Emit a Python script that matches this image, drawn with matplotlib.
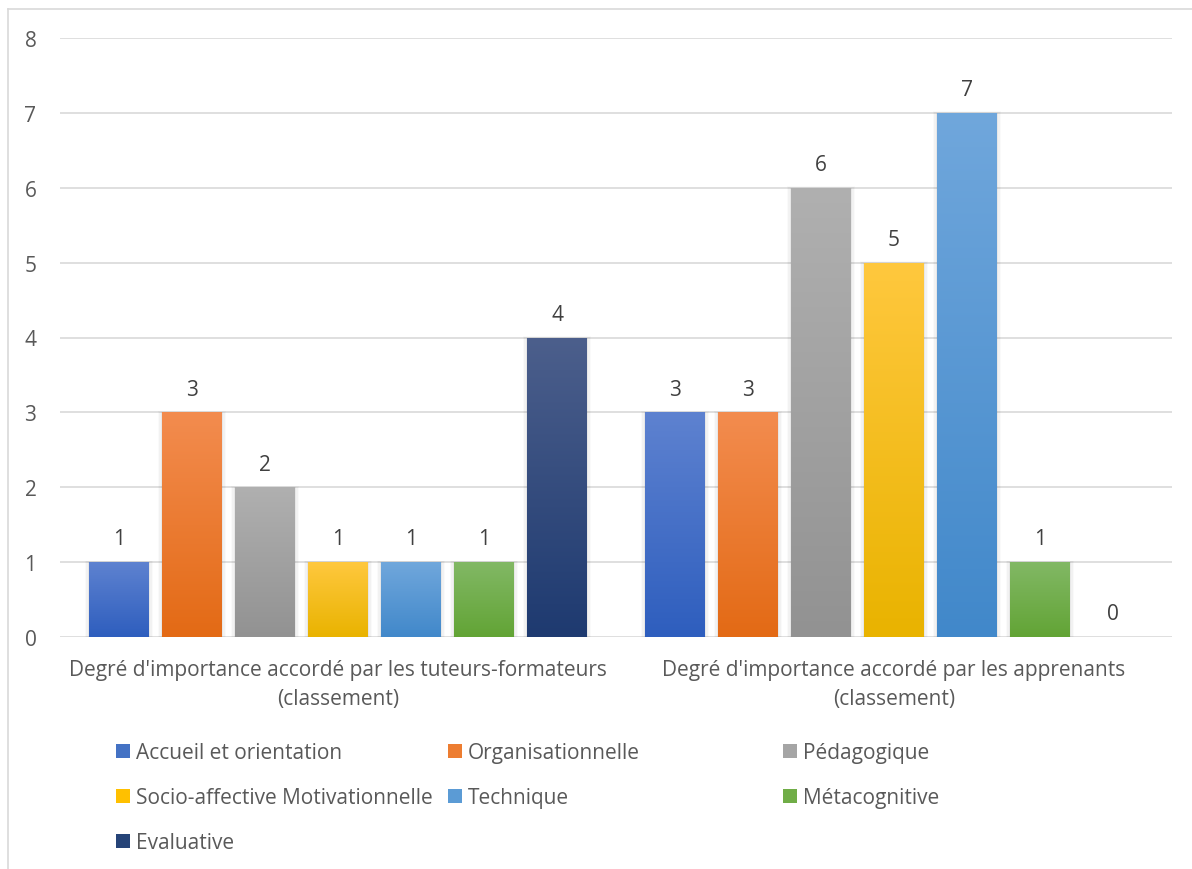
import matplotlib
matplotlib.use("Agg")
import matplotlib.pyplot as plt
import numpy as np
from matplotlib.colors import LinearSegmentedColormap
from matplotlib.patches import Rectangle
from matplotlib.lines import Line2D

groups = ["Degré d'importance accordé par les tuteurs-formateurs\n(classement)",
          "Degré d'importance accordé par les apprenants\n(classement)"]
series = ["Accueil et orientation", "Organisationnelle", "Pédagogique",
          "Socio-affective Motivationnelle", "Technique", "Métacognitive", "Evaluative"]
values = [
    [1, 3],  # Accueil et orientation
    [3, 3],  # Organisationnelle
    [2, 6],  # Pédagogique
    [1, 5],  # Socio-affective Motivationnelle
    [1, 7],  # Technique
    [1, 1],  # Métacognitive
    [4, 0],  # Evaluative
]
yticks = list(range(0, 9))

top_colors = ["#5E82D0", "#F38C4F", "#B0B0B0", "#FFC83E", "#70A7DC", "#82B865", "#4C5F8C"]
bot_colors = ["#2E5EBE", "#E36A15", "#929292", "#E9B300", "#4188CA", "#62A435", "#1E3A70"]
mid_colors = ["#4472C4", "#ED7D31", "#A5A5A5", "#FFC000", "#5B9BD5", "#70AD47", "#264478"]

W, H = 1192, 870
fig = plt.figure(figsize=(W / 100, H / 100), dpi=100)
plt.rcParams['font.family'] = ["Open Sans", 'DejaVu Sans']
FS = 15

ax = fig.add_axes([60 / W, 1 - 638 / H, (1172 - 60) / W, (638 - 39) / H])
ax.set_xlim(-0.5, 1.5)
ax.set_ylim(0, 8)

step = 73 / 556
bw = 60 / 556
n = len(series)
x = np.arange(len(groups))
for i, name in enumerate(series):
    off = (i - (n - 1) / 2) * step
    cmap = LinearSegmentedColormap.from_list("g%d" % i, [bot_colors[i], top_colors[i]])
    bars = ax.bar(x + off, values[i], width=bw, color=mid_colors[i], zorder=3, linewidth=0)
    for b, v in zip(bars, values[i]):
        if v > 0:
            for k, a in enumerate([0.045, 0.03, 0.02]):
                d = 0.0025 * (k + 1)
                sh = Rectangle((b.get_x() - d, -0.01), b.get_width() + 2 * d,
                               v + 0.01 * (k + 1), color="black", alpha=a, zorder=2, linewidth=0)
                ax.add_patch(sh)
            grad = np.linspace(0, 1, 256).reshape(-1, 1)
            im = ax.imshow(grad, cmap=cmap, origin="lower", aspect="auto",
                           extent=[b.get_x(), b.get_x() + b.get_width(), 0, v], zorder=4)
            im.set_clip_path(b)
        ax.text(b.get_x() + b.get_width() / 2, v + 0.17, str(v), ha="center", va="bottom",
                fontsize=FS, color="#404040", zorder=5)

ax.set_xlim(-0.5, 1.5)
ax.set_ylim(0, 8)
ax.set_yticks(yticks)
ax.set_yticklabels([str(t) for t in yticks], fontsize=FS, color="#595959")
ax.set_xticks(x)
ax.set_xticklabels(groups, fontsize=FS, color="#595959", linespacing=1.55)
ax.tick_params(axis="both", length=0)
ax.tick_params(axis="y", pad=17)
ax.tick_params(axis="x", pad=15.5)
ax.grid(axis="y", color="#D9D9D9", linewidth=1.2, zorder=0)
for s in ax.spines.values():
    s.set_visible(False)

# legend (row-wise, 3 fixed-width columns)
col_x = [116, 448, 783]
row_y = [752, 797, 842]
for i, name in enumerate(series):
    r, c = divmod(i, 3)
    mx, my = col_x[c], row_y[r]
    fig.add_artist(Rectangle((mx / W, 1 - (my + 7) / H), 14 / W, 14 / H,
                             transform=fig.transFigure, facecolor=mid_colors[i], edgecolor="none"))
    fig.text((mx + 20) / W, 1 - (my + 2) / H, name, fontsize=FS, color="#595959",
             ha="left", va="center")

# outer border (top and left)
fig.add_artist(Line2D([8 / W, 1], [1 - 10 / H, 1 - 10 / H], color="#D9D9D9", linewidth=1.2))
fig.add_artist(Line2D([8 / W, 8 / W], [0, 1 - 10 / H], color="#D9D9D9", linewidth=1.2))

fig.savefig("out.png", dpi=100, facecolor="white")
